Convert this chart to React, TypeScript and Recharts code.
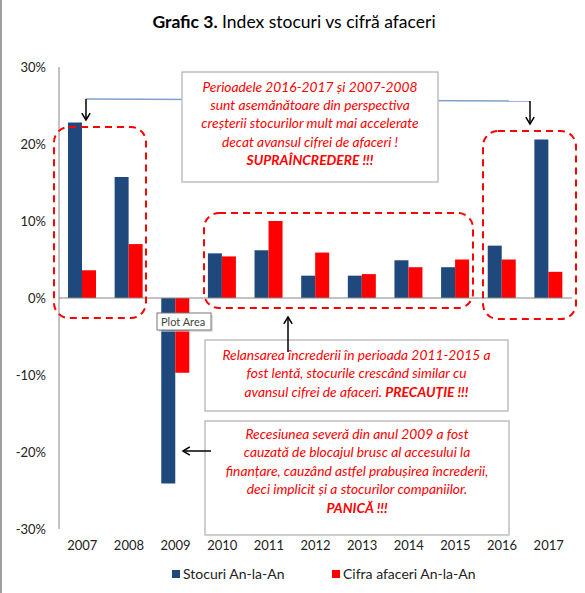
import { Bar, BarChart, ReferenceLine, XAxis, YAxis } from "recharts";

const years = ["2007", "2008", "2009", "2010", "2011", "2012", "2013", "2014", "2015", "2016", "2017"];
const stocuri = [22.8, 15.7, -24.1, 5.8, 6.2, 2.9, 2.9, 4.9, 4.0, 6.8, 20.6];
const cifraAfaceri = [3.6, 7.0, -9.7, 5.4, 10.0, 5.9, 3.1, 4.0, 5.0, 5.0, 3.4];
const yTicks = [-30, -20, -10, 0, 10, 20, 30];

const BLUE = "#1F497D";
const RED = "#FF0000";
const FONT = "Lato, 'Open Sans', sans-serif";

const data = years.map((year, i) => ({
  year,
  stocuri: stocuri[i],
  cifra: cifraAfaceri[i],
}));

type Line = { text: string; bold?: string; y: number };

const box1: Line[] = [
  { text: "Perioadele 2016-2017 și 2007-2008", y: 87 },
  { text: "sunt asemănătoare din perspectiva", y: 105 },
  { text: "creșterii stocurilor mult mai accelerate", y: 123 },
  { text: "decat avansul cifrei de afaceri !", y: 142 },
  { text: "", bold: "SUPRAÎNCREDERE !!!", y: 160 },
];
const box2: Line[] = [
  { text: "Relansarea încrederii în perioada 2011-2015 a", y: 355 },
  { text: "fost lentă, stocurile crescând similar cu", y: 373 },
  { text: "avansul cifrei de afaceri. ", bold: "PRECAUȚIE !!!", y: 392 },
];
const box3: Line[] = [
  { text: "Recesiunea severă din anul 2009 a fost", y: 434 },
  { text: "cauzată de blocajul brusc al accesului la", y: 452 },
  { text: "finanțare, cauzând astfel prabușirea încrederii,", y: 471 },
  { text: "deci implicit și a stocurilor companiilor.", y: 489 },
  { text: "", bold: "PANICĂ !!!", y: 508 },
];

function NoteBox({ x, y, w, h, lines }: { x: number; y: number; w: number; h: number; lines: Line[] }) {
  const cx = x + w / 2;
  return (
    <g>
      <rect x={x} y={y} width={w} height={h} fill="#fff" stroke="#BFBFBF" strokeWidth={1.5} />
      {lines.map((l, i) => (
        <text
          key={i}
          x={cx}
          y={l.y + 5}
          textAnchor="middle"
          fill={RED}
          fontStyle="italic"
          fontSize={13.8}
          fontFamily={FONT}
        >
          {l.text}
          {l.bold && <tspan fontWeight="bold">{l.bold}</tspan>}
        </text>
      ))}
    </g>
  );
}

function Arrow({ x1, y1, x2, y2 }: { x1: number; y1: number; x2: number; y2: number }) {
  const a = Math.atan2(y2 - y1, x2 - x1);
  const s = 8;
  const p1 = [x2 - s * Math.cos(a - 0.55), y2 - s * Math.sin(a - 0.55)];
  const p2 = [x2 - s * Math.cos(a + 0.55), y2 - s * Math.sin(a + 0.55)];
  return (
    <g stroke="#000" strokeWidth={1.5} fill="none">
      <line x1={x1} y1={y1} x2={x2} y2={y2} />
      <polyline points={`${p1[0]},${p1[1]} ${x2},${y2} ${p2[0]},${p2[1]}`} />
    </g>
  );
}

function Overlay() {
  const dashed = { fill: "none", stroke: RED, strokeWidth: 2, strokeDasharray: "7 5" };
  return (
    <svg width={585} height={593} style={{ position: "absolute", left: 0, top: 0, pointerEvents: "none" }}>
      <line x1={1} y1={0} x2={1} y2={593} stroke="#A0A0A0" strokeWidth={2} />
      {/* title */}
      <text x={294} y={28} textAnchor="middle" fontFamily={FONT} fontSize={17.5} fill="#000">
        <tspan fontWeight="bold">Grafic 3.</tspan> Index stocuri vs cifră afaceri
      </text>
      {/* dashed groups */}
      <rect x={54} y={127} width={92} height={191} rx={15} {...dashed} />
      <rect x={204} y={213} width={269} height={95} rx={15} {...dashed} />
      <rect x={483} y={131} width={93} height={188} rx={15} {...dashed} />
      {/* connector */}
      <line x1={86} y1={99} x2={530} y2={101} stroke="#7F9FCF" strokeWidth={1.5} />
      <NoteBox x={182} y={72} w={256} h={110} lines={box1} />
      <NoteBox x={205} y={340} w={303} h={71} lines={box2} />
      <NoteBox x={205} y={421} w={304} h={114} lines={box3} />
      <Arrow x1={86} y1={99} x2={86} y2={120} />
      <Arrow x1={530} y1={101} x2={530} y2={124} />
      <Arrow x1={288} y1={352} x2={288} y2={317} />
      <Arrow x1={211} y1={451} x2={183} y2={451} />
      {/* excel tooltip */}
      <rect x={159} y={315} width={54} height={17} fill="#C8C8C8" opacity={0.6} />
      <rect x={157} y={313} width={54} height={17} fill="#fff" stroke="#767676" strokeWidth={1} />
      <text x={161} y={325.5} fontFamily={FONT} fontSize={11} fill="#444">
        Plot Area
      </text>
    </svg>
  );
}

function LegendRow() {
  const item = (color: string, label: string, left: number) => (
    <div style={{ position: "absolute", left, top: 565, display: "flex", alignItems: "center" }}>
      <span style={{ width: 8, height: 8, background: color, marginRight: 3, display: "inline-block" }} />
      <span style={{ fontSize: 14, color: "#222", fontFamily: FONT }}>{label}</span>
    </div>
  );
  return (
    <>
      {item(BLUE, "Stocuri An-la-An", 172)}
      {item(RED, "Cifra afaceri An-la-An", 332)}
    </>
  );
}

export default function App() {
  return (
    <div style={{ position: "absolute", left: 0, top: 0, width: 585, height: 593, background: "#fff" }}>
      <BarChart
        width={585}
        height={593}
        data={data}
        margin={{ top: 67, right: 13, left: 0, bottom: 34 }}
        barGap={0}
        barSize={14}
      >
        <XAxis
          dataKey="year"
          axisLine={false}
          tickLine={false}
          tickSize={0}
          tickMargin={12}
          height={30}
          interval={0}
          tick={{ fontSize: 13, fill: "#222", fontFamily: FONT }}
        />
        <YAxis
          domain={[-30, 30]}
          ticks={yTicks}
          tickFormatter={(v) => `${v}%`}
          width={59}
          tickLine={false}
          tickSize={0}
          tickMargin={13}
          axisLine={{ stroke: "#868686" }}
          tick={{ fontSize: 13, fill: "#222", fontFamily: FONT }}
        />
        <ReferenceLine y={0} stroke="#868686" strokeWidth={1.2} />
        <Bar dataKey="stocuri" name="Stocuri An-la-An" fill={BLUE} isAnimationActive={false} />
        <Bar dataKey="cifra" name="Cifra afaceri An-la-An" fill={RED} isAnimationActive={false} />
      </BarChart>
      <Overlay />
      <LegendRow />
    </div>
  );
}
